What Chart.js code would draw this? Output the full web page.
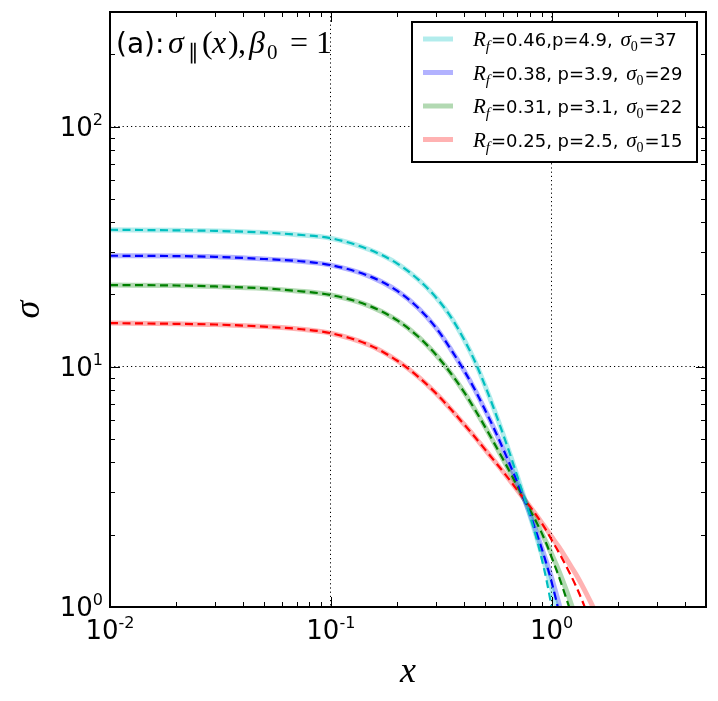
<!DOCTYPE html>
<html>
<head>
<meta charset="utf-8">
<script src="https://cdn.jsdelivr.net/npm/chart.js@4.4.0/dist/chart.umd.min.js"></script>
<style>
  html, body { margin: 0; padding: 0; background: #fff; }
</style>
</head>
<body>
<canvas id="grafico" width="718" height="701"></canvas>
<script>
const xs = [0.01, 0.02, 0.03, 0.05, 0.07, 0.1, 0.15, 0.2, 0.25, 0.3, 0.35, 0.4, 0.45, 0.5, 0.55, 0.6,
            0.65, 0.7, 0.75, 0.8, 0.85, 0.9, 0.95, 1.0, 1.05, 1.1, 1.2, 1.3, 1.4, 1.5, 1.6, 1.7];

// fits (light solid) and data (dark dashed)
const cyanFit  = [37.2, 37.0, 36.8, 36.2, 35.5, 34.3, 30.7, 26.9, 23.0, 19.4, 16.1, 13.05, 10.5, 8.32, 6.62, 5.3,
                  4.29, 3.49, 2.87, 2.38, 1.99, 1.67, 1.41, 1.195, 1.017, 0.868, null, null, null, null, null, null];
const cyanData = [37.2, 37.0, 36.8, 36.2, 35.5, 34.3, 30.7, 26.9, 23.0, 19.4, 16.1, 13.05, 10.5, 8.32, 6.62, 5.3,
                  4.29, 3.49, 2.87, 2.38, 1.96, 1.6, 1.28, 1.0, 0.78, null, null, null, null, null, null, null];
const blueFit  = [29.0, 28.9, 28.7, 28.1, 27.6, 26.5, 23.8, 20.7, 17.5, 14.5, 11.8, 9.7, 8.0, 6.6, 5.5, 4.6,
                  3.88, 3.3, 2.82, 2.42, 2.06, 1.77, 1.53, 1.32, 1.13, 0.97, 0.72, null, null, null, null, null];
const blueData = [29.0, 28.9, 28.7, 28.1, 27.6, 26.5, 23.8, 20.7, 17.5, 14.5, 11.8, 9.7, 8.0, 6.6, 5.5, 4.6,
                  3.88, 3.3, 2.82, 2.42, 2.06, 1.76, 1.5, 1.27, 1.06, 0.88, null, null, null, null, null, null];
const greenFit  = [21.9, 21.8, 21.6, 21.2, 20.7, 19.9, 17.9, 15.6, 13.3, 11.2, 9.38, 7.88, 6.62, 5.61, 4.8, 4.15,
                   3.62, 3.18, 2.82, 2.52, 2.27, 2.04, 1.84, 1.66, 1.5, 1.35, 1.09, 0.875, null, null, null, null];
const greenData = [21.9, 21.8, 21.6, 21.2, 20.7, 19.9, 17.9, 15.6, 13.3, 11.2, 9.38, 7.88, 6.62, 5.61, 4.8, 4.15,
                   3.62, 3.18, 2.82, 2.52, 2.27, 2.04, 1.82, 1.61, 1.43, 1.27, 1.0, 0.8, null, null, null, null];
const redFit  = [15.2, 15.1, 15.0, 14.7, 14.4, 13.8, 12.3, 10.6, 9.05, 7.74, 6.65, 5.78, 5.09, 4.52, 4.06, 3.68,
                 3.35, 3.06, 2.82, 2.61, 2.42, 2.25, 2.1, 1.96, 1.84, 1.73, 1.52, 1.35, 1.19, 1.05, 0.93, 0.83];
const redData = [15.2, 15.1, 15.0, 14.7, 14.4, 13.8, 12.3, 10.6, 9.05, 7.74, 6.65, 5.78, 5.09, 4.52, 4.06, 3.68,
                 3.35, 3.06, 2.82, 2.61, 2.42, 2.24, 2.07, 1.9, 1.76, 1.63, 1.4, 1.2, 1.02, 0.86, null, null];

// legend parameters  (Rf, p, sigma0)
const legendRf = ['0.46', '0.38', '0.31', '0.25'];
const legendP = ['4.9', '3.9', '3.1', '2.5'];
const legendS0 = ['37', '29', '22', '15'];

// axes
const xMajor = [0.01, 0.1, 1];
const xMinor = [0.02, 0.03, 0.04, 0.05, 0.06, 0.07, 0.08, 0.09, 0.2, 0.3, 0.4, 0.5, 0.6, 0.7, 0.8, 0.9, 2, 3, 4];
const xExp = ['-2', '-1', '0'];
const yMajor = [1, 10, 100];
const yMinor = [2, 3, 4, 5, 6, 7, 8, 9, 20, 30, 40, 50, 60, 70, 80, 90, 200];
const yExp = ['0', '1', '2'];

const SANS = '"DejaVu Sans"';
const SERIF = '"Liberation Serif"';

const series = [
  { fit: cyanFit, data: cyanData, light: 'rgba(0,191,191,0.3)', dark: '#00bfbf' },
  { fit: blueFit, data: blueData, light: 'rgba(0,0,255,0.3)', dark: '#0000ff' },
  { fit: greenFit, data: greenData, light: 'rgba(0,128,0,0.3)', dark: '#008000' },
  { fit: redFit, data: redData, light: 'rgba(255,0,0,0.3)', dark: '#ff0000' }
];

function pts(ys) {
  return xs.map((x, i) => ({ x: x, y: ys[i] }));
}

const datasets = [];
series.forEach(s => {
  datasets.push({ data: pts(s.fit), borderColor: s.light, borderWidth: 5, pointRadius: 0,
                  cubicInterpolationMode: 'monotone', clip: 0, order: 2 });
  datasets.push({ data: pts(s.data), borderColor: s.dark, borderWidth: 2.2, borderDash: [8, 4.5], pointRadius: 0,
                  cubicInterpolationMode: 'monotone', clip: 0, order: 1 });
});

// draws a row of text pieces with their own fonts / offsets ("at" = fixed x)
function runs(ctx, x, y, parts) {
  parts.forEach(p => {
    ctx.font = p.f;
    if (p.at !== undefined) x = p.at;
    x += p.pre || 0;
    ctx.fillText(p.t, x, y + (p.dy || 0));
    x += ctx.measureText(p.t).width + (p.post || 0);
  });
  return x;
}

const decorations = {
  id: 'decorations',
  afterDraw(chart) {
    const ctx = chart.ctx;
    const a = chart.chartArea;
    const sx = chart.scales.x, sy = chart.scales.y;
    ctx.save();
    ctx.strokeStyle = '#000';
    ctx.fillStyle = '#000';

    // inward ticks on all four sides
    ctx.lineWidth = 1;
    ctx.beginPath();
    const tx = (v, len) => {
      const px = Math.round(sx.getPixelForValue(v)) + 0.5;
      ctx.moveTo(px, a.bottom); ctx.lineTo(px, a.bottom - len);
      ctx.moveTo(px, a.top); ctx.lineTo(px, a.top + len);
    };
    const ty = (v, len) => {
      const py = Math.round(sy.getPixelForValue(v)) + 0.5;
      ctx.moveTo(a.left, py); ctx.lineTo(a.left + len, py);
      ctx.moveTo(a.right, py); ctx.lineTo(a.right - len, py);
    };
    xMajor.forEach(v => tx(v, 10));
    xMinor.forEach(v => tx(v, 5));
    yMajor.forEach(v => ty(v, 10));
    yMinor.forEach(v => ty(v, 5));
    ctx.stroke();

    // frame
    ctx.lineWidth = 2;
    ctx.strokeRect(a.left, a.top, a.right - a.left, a.bottom - a.top);

    // tick labels
    ctx.textBaseline = 'alphabetic';
    ctx.textAlign = 'left';
    const big = '26px ' + SANS, small = '16px ' + SANS;
    yMajor.forEach((v, i) => {
      const py = sy.getPixelForValue(v);
      ctx.font = big; const w1 = ctx.measureText('10').width;
      ctx.font = small; const w2 = ctx.measureText(yExp[i]).width;
      const x0 = a.left - 7 - w1 - w2;
      runs(ctx, x0, py + 9, [{ t: '10', f: big }, { t: yExp[i], f: small, dy: -11 }]);
    });
    xMajor.forEach((v, i) => {
      const px = sx.getPixelForValue(v);
      ctx.font = big; const w1 = ctx.measureText('10').width;
      ctx.font = small; const w2 = ctx.measureText(xExp[i]).width;
      const x0 = px - (w1 + w2) / 2;
      runs(ctx, x0, a.bottom + 32, [{ t: '10', f: big }, { t: xExp[i], f: small, dy: -11 }]);
    });

    // axis titles
    ctx.font = 'italic 36px ' + SERIF;
    ctx.textAlign = 'center';
    ctx.fillText('x', (a.left + a.right) / 2, 682);
    ctx.save();
    ctx.translate(31, (a.top + a.bottom) / 2);
    ctx.rotate(-Math.PI / 2);
    ctx.fillText('\u03c3', 0, 8);
    ctx.restore();
    ctx.textAlign = 'left';

    // panel title
    const m = '32px ' + SERIF, mi = 'italic 32px ' + SERIF, ms = '21px ' + SERIF;
    runs(ctx, a.left + 6, 53, [
      { t: '(a):', f: '28px ' + SANS },
      { t: '\u03c3', f: mi, at: 168 },
      { t: '\u2225', f: ms, dy: 6, at: 188 },
      { t: '(', f: m, at: 202 }, { t: 'x', f: mi, at: 212 }, { t: ')', f: m, at: 228 }, { t: ',', f: m, at: 238 },
      { t: '\u03b2', f: mi, at: 249 }, { t: '0', f: ms, dy: 6, at: 267 },
      { t: '=', f: m, at: 290 }, { t: '1', f: m, at: 316 }
    ]);

    // legend
    const lx = 412, ly = 22, lw = 285, lh = 140;
    ctx.fillStyle = '#fff';
    ctx.fillRect(lx, ly, lw, lh);
    ctx.lineWidth = 2;
    ctx.strokeRect(lx, ly, lw, lh);
    ctx.fillStyle = '#000';
    const rowY = [39, 72.5, 106, 139.5];
    series.forEach((s, i) => {
      ctx.strokeStyle = s.light;
      ctx.lineWidth = 5;
      ctx.beginPath();
      ctx.moveTo(423, rowY[i]); ctx.lineTo(453, rowY[i]);
      ctx.stroke();
      const sep = i === 0 ? ',' : ', ';
      runs(ctx, 473, rowY[i] + 7, [
        { t: 'R', f: 'italic 21px ' + SERIF },
        { t: 'f', f: 'italic 15px ' + SERIF, dy: 5, post: 1 },
        { t: '=' + legendRf[i] + sep + 'p=' + legendP[i] + ', ', f: '18px ' + SANS },
        { t: '\u03c3', f: 'italic 21px ' + SERIF, pre: 2 },
        { t: '0', f: '14px ' + SERIF, dy: 5, post: 1 },
        { t: '=' + legendS0[i], f: '18px ' + SANS }
      ]);
    });
    ctx.restore();
  }
};

const gridColor = majors => ctx => (ctx.tick && majors.includes(ctx.tick.value)) ? '#000' : 'rgba(0,0,0,0)';

new Chart(document.getElementById('grafico').getContext('2d'), {
  type: 'line',
  data: { datasets: datasets },
  options: {
    responsive: false,
    animation: false,
    devicePixelRatio: 1,
    layout: { padding: { top: 12, right: 12, left: 0, bottom: 0 } },
    plugins: { legend: { display: false }, tooltip: { enabled: false } },
    scales: {
      x: {
        type: 'logarithmic', min: 0.01, max: 5, position: 'bottom',
        afterBuildTicks: s => { s.ticks = xMajor.concat(xMinor).sort((p, q) => p - q).map(v => ({ value: v })); },
        afterFit: s => { s.height = 94; },
        ticks: { display: false },
        grid: { color: gridColor([0.1, 1]), lineWidth: 1, drawTicks: false },
        border: { display: false, dash: [1.2, 3] }
      },
      y: {
        type: 'logarithmic', min: 1, max: 300, position: 'left',
        afterBuildTicks: s => { s.ticks = yMajor.concat(yMinor).sort((p, q) => p - q).map(v => ({ value: v })); },
        afterFit: s => { s.width = 110; },
        ticks: { display: false },
        grid: { color: gridColor([10, 100]), lineWidth: 1, drawTicks: false },
        border: { display: false, dash: [1.2, 3] }
      }
    }
  },
  plugins: [decorations]
});
</script>
</body>
</html>
